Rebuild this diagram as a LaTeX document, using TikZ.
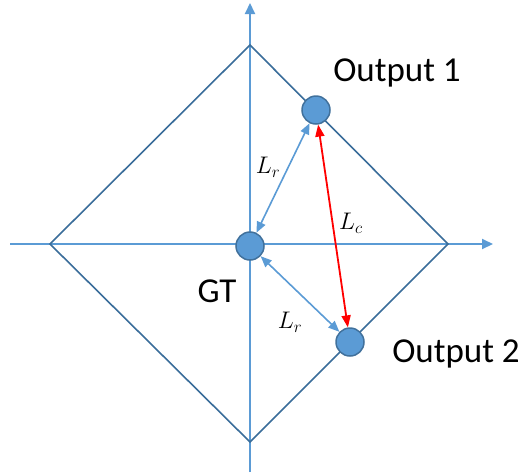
\documentclass[tikz,border=0pt]{standalone}
\usepackage{fix-cm}
\usepackage{fontspec}
\setmainfont{Carlito}
\usetikzlibrary{arrows.meta}
\definecolor{axisblue}{HTML}{5B9BD5}
\definecolor{darkblue}{HTML}{41719C}
\definecolor{dline}{HTML}{3A6D9A}
\tikzset{
  axis/.style={draw=axisblue, line width=2pt, -{Triangle[width=10pt,length=11pt]}},
  diam/.style={draw=dline, line width=1.6pt, line join=miter},
  dot/.style={circle, fill=axisblue, draw=darkblue, line width=1.5pt, minimum size=28pt, inner sep=0pt},
  lr/.style={draw=axisblue, line width=1.6pt, {Triangle[width=9pt,length=11pt]}-{Triangle[width=9pt,length=11pt]}},
  lc/.style={draw=red, line width=1.8pt, {Triangle[width=9pt,length=12pt]}-{Triangle[width=9pt,length=12pt]}},
  lbl/.style={font=\fontsize{35}{38}\selectfont, inner sep=0pt},
  mlbl/.style={font=\fontsize{24}{27}\selectfont, inner sep=0pt},
}
\begin{document}
\begin{tikzpicture}[x=1pt,y=-1pt]
\useasboundingbox (0,0) rectangle (522,472);
\coordinate (xs) at (10,244);
\coordinate (xe) at (493,244);
\coordinate (ys) at (250,472);
\coordinate (ye) at (250,3);
\draw[axis] (xs) -- (xe);
\draw[axis] (ys) -- (ye);
\coordinate (dt) at (250,45);
\coordinate (dr) at (448,244);
\coordinate (db) at (250,442);
\coordinate (dl) at (50,244);
\draw[diam] (dt) -- (dr) -- (db) -- (dl) -- cycle;
\node[dot] (gt) at (250,246) {};
\node[dot] (o1) at (316,110) {};
\node[dot] (o2) at (350,342) {};
\draw[lr] (gt) -- (o1);
\draw[lr] (gt) -- (o2);
\draw[lc] (o1) -- (o2);
\node[lbl] (t1) at (397,73) {Output 1};
\node[lbl] (t2) at (456,354) {Output 2};
\node[lbl] (tg) at (217,291) {GT};
\node[mlbl] (m1) at (268,167) {$L_r$};
\node[mlbl] (m2) at (290,322) {$L_r$};
\node[mlbl] (m3) at (351,223) {$L_c$};
\end{tikzpicture}
\end{document}
